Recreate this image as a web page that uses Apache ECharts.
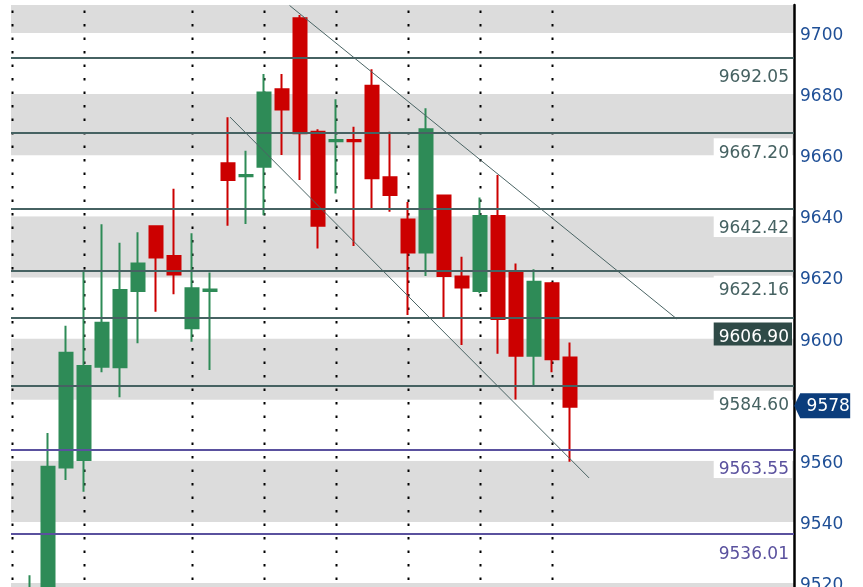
<!DOCTYPE html>
<html>
<head>
<meta charset="utf-8">
<script src="https://cdn.jsdelivr.net/npm/echarts@6/dist/echarts.min.js"></script>
<style>
html,body{margin:0;padding:0;background:#fff;overflow:hidden;}
/* the plot runs 20px below the window so the first candle body is out of view */
#chart{width:863px;height:607px;}
</style>
</head>
<body>
<div id="chart"></div>
<script>
// candle slots (bar index along the time axis)
var slots  = [1,2,3,4,5,6,7,8,9,10,11,12,13,14,15,16,17,18,19,20,21,22,23,24,25,26,27,28,29,30,31];
var opens  = [9508,9512,9557.8,9560.3,9590.8,9590.6,9615.6,9636.8,9627.0,9603.4,9615.6,9657.4,9653.1,9656.2,9681.6,9704.8,9667.7,9664.6,9665.0,9682.7,9652.8,9639.0,9628.2,9646.8,9620.3,9615.6,9640.1,9621.6,9594.4,9618.1,9593.8];
var closes = [9517,9558.1,9595.4,9591.0,9605.2,9615.9,9624.6,9626.5,9621.0,9616.5,9616.1,9651.9,9653.5,9680.5,9675.0,9667.2,9636.9,9665.0,9664.6,9652.5,9647.0,9628.2,9668.5,9620.5,9616.7,9640.1,9606.4,9594.4,9618.6,9593.2,9577.7];
var lows   = [9502,9508,9553.7,9549.9,9589.0,9580.8,9598.5,9608.8,9614.5,9599.0,9589.7,9636.9,9637.5,9640.4,9660.1,9651.9,9629.5,9647.5,9630.3,9642.3,9641.5,9607.7,9620.5,9606.6,9597.9,9614.8,9595.0,9580.1,9584.3,9589.0,9559.7];
var highs  = [9522.6,9569.1,9604.2,9622.2,9637.4,9631.4,9634.8,9636.8,9649.0,9634.5,9621.6,9672.4,9661.5,9686.6,9686.6,9705.9,9668.5,9678.3,9669.3,9688.1,9667.7,9644.7,9675.4,9646.8,9626.8,9646.2,9653.5,9624.6,9622.7,9618.5,9598.7];

// price levels drawn across the chart
var levels      = [9692.05,9667.20,9642.42,9622.16,9606.90,9584.60,9563.55,9536.01];
var levelColors = ['#466262','#466262','#466262','#466262','#466262','#466262','#5a519e','#5a519e'];
var activeLevel = 9606.90;

// dotted session separators
var sessionSlots = [0,4,10,14,18,22,26,30];

// channel lines [slot, price]
var upperChannel = [[15.42,9709.0],[36.94,9606.4]];
var lowerChannel = [[12.11,9672.5],[32.06,9554.4]];

var lastPrice = 9578;

var xMin = -0.0556, xMax = 43.444;
var yMin = 9512.17, yMax = 9709.16;
var font = 'DejaVu Sans';

var candles = [];
for (var i = 0; i < slots.length; i++) {
    candles.push([slots[i], opens[i], closes[i], lows[i], highs[i]]);
}

var levelLines = [];
for (var j = 0; j < levels.length; j++) {
    var active = levels[j] === activeLevel;
    levelLines.push({
        yAxis: levels[j],
        lineStyle: {color: levelColors[j], width: 2, type: 'solid'},
        label: {
            show: true,
            position: 'insideEndBottom',
            distance: [2, 5],
            formatter: levels[j].toFixed(2),
            color: active ? '#ffffff' : levelColors[j],
            backgroundColor: active ? '#2f4a47' : '#ffffff',
            padding: [7, 3, 0, 5],
            lineHeight: 16,
            fontSize: 17,
            fontFamily: font
        }
    });
}

var sessionData = [];
for (var s = 0; s < sessionSlots.length; s++) {
    sessionData.push([sessionSlots[s]]);
}

var chart = echarts.init(document.getElementById('chart'));
chart.setOption({
    animation: false,
    backgroundColor: '#ffffff',
    grid: {left: 11, right: 69, top: 5, bottom: 0},
    xAxis: {
        type: 'value',
        min: xMin,
        max: xMax,
        show: false,
        splitLine: {show: false}
    },
    yAxis: {
        type: 'value',
        position: 'right',
        min: yMin,
        max: yMax,
        splitNumber: 10,
        axisLine: {show: true, onZero: false, lineStyle: {color: '#000', width: 2.5}},
        axisTick: {show: false},
        splitLine: {show: false},
        splitArea: {show: true, areaStyle: {color: ['#dcdcdc', '#ffffff']}},
        axisLabel: {
            showMinLabel: false,
            showMaxLabel: false,
            margin: 6,
            formatter: function (v) {
                // the last-price tag sits over this label
                return Math.abs(v - lastPrice) < 8 ? '' : '{t|' + v.toFixed(0) + '}';
            },
            rich: {
                t: {
                    color: '#1f4f96',
                    fontSize: 17,
                    fontFamily: font,
                    padding: [5, 0, 0, 0]
                }
            }
        }
    },
    series: [{
        name: 'sessions',
        type: 'custom',
        z: 1,
        silent: true,
        data: sessionData,
        encode: {x: 0},
        renderItem: function (params, api) {
            // snap to the same half pixel the candle wicks use
            var x = Math.floor(api.coord([api.value(0), yMin])[0]) + 0.5;
            var cs = params.coordSys;
            return {
                type: 'line',
                shape: {x1: x, y1: cs.y + cs.height, x2: x, y2: cs.y},
                style: {stroke: '#000', lineWidth: 2, lineDash: [2.6, 10.9]}
            };
        }
    }, {
        name: 'price',
        type: 'candlestick',
        data: candles,
        encode: {x: 0, y: [1, 2, 3, 4]},
        barWidth: 14,
        z: 2,
        itemStyle: {
            color: '#2e8b57',
            color0: '#cc0000',
            borderColor: '#2e8b57',
            borderColor0: '#cc0000',
            borderWidth: 2
        },
        markLine: {
            silent: true,
            symbol: 'none',
            z: 5,
            data: levelLines
        }
    }, {
        name: 'channel',
        type: 'line',
        data: [],
        markLine: {
            silent: true,
            symbol: 'none',
            z: 5,
            label: {show: false},
            lineStyle: {color: '#4a6464', width: 1, type: 'solid'},
            data: [
                [{coord: upperChannel[0]}, {coord: upperChannel[1]}],
                [{coord: lowerChannel[0]}, {coord: lowerChannel[1]}]
            ]
        },
        markPoint: {
            silent: true,
            z: 6,
            symbol: 'path://M0,12.5 L6,0 L56,0 L56,25 L6,25 Z',
            symbolSize: [56, 25],
            symbolKeepAspect: false,
            symbolOffset: [29, 0],
            itemStyle: {color: '#0b3d7c'},
            label: {
                show: true,
                position: 'inside',
                offset: [6, 1],
                color: '#ffffff',
                fontSize: 17,
                fontFamily: font,
                formatter: String(lastPrice)
            },
            data: [{coord: [43.4, lastPrice]}]
        }
    }]
});
</script>
</body>
</html>
